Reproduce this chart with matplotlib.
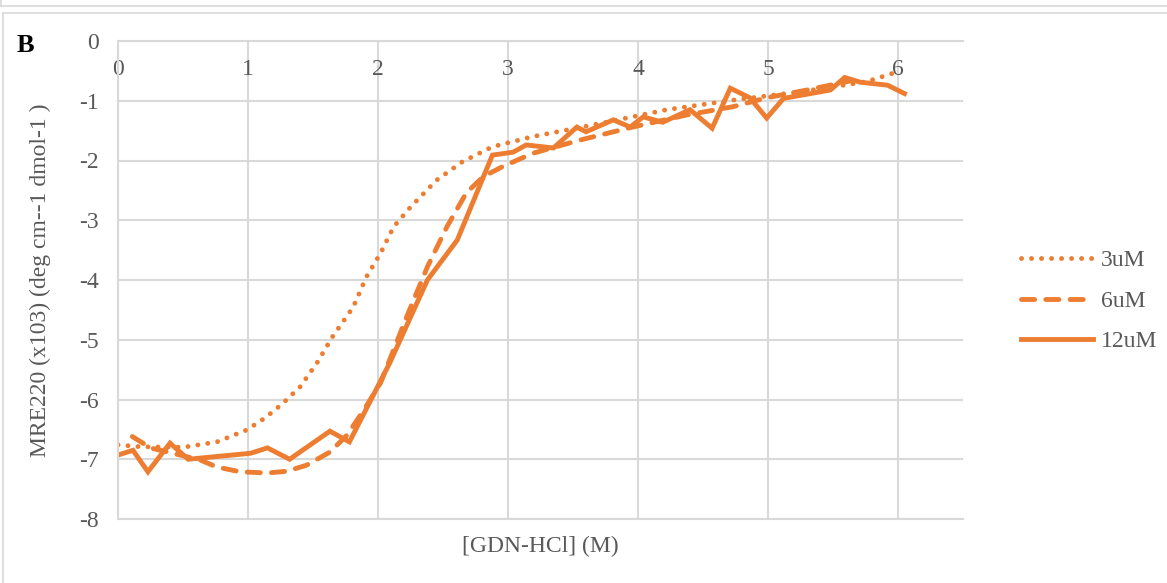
import matplotlib

matplotlib.use("Agg")
import matplotlib.pyplot as plt
from matplotlib.lines import Line2D

# values (x: GdnHCl in M, y: MRE220 x10^3)
x_3um = [0, 0.17, 0.5, 0.76, 0.99, 1.13, 1.26, 1.4, 1.53, 1.65, 1.81, 1.91, 2.02,
         2.12, 2.25, 2.45, 2.65, 2.88, 3.19, 3.71, 4.22, 4.73, 5.25, 5.76, 5.96]
y_3um = [-6.76, -6.79, -6.8, -6.71, -6.51, -6.31, -6.08, -5.79, -5.39, -4.95, -4.45, -3.95, -3.55,
         -3.11, -2.78, -2.33, -2.02, -1.77, -1.6, -1.38, -1.15, -0.99, -0.85, -0.68, -0.54]

x_6um = [0.11, 0.25, 0.63, 0.76, 0.94, 1.15, 1.3, 1.45, 1.63, 1.76, 1.89, 2.02, 2.22,
         2.38, 2.53, 2.68, 2.81, 2.96, 3.19, 3.55, 3.96, 4.37, 4.73, 4.99, 5.3, 5.63]
y_6um = [-6.62, -6.81, -7.01, -7.13, -7.21, -7.23, -7.2, -7.1, -6.88, -6.6, -6.18, -5.72, -4.62,
         -3.78, -3.11, -2.54, -2.27, -2.1, -1.88, -1.66, -1.44, -1.24, -1.1, -0.95, -0.82, -0.67]

x_12um = [0, 0.115, 0.23, 0.4, 0.54, 1.02, 1.15, 1.32, 1.63, 1.78, 2.09, 2.38, 2.61, 2.88,
          3.04, 3.14, 3.35, 3.53, 3.6, 3.81, 3.94, 4.04, 4.19, 4.4, 4.57, 4.71, 4.86, 4.99,
          5.12, 5.48, 5.59, 5.71, 5.92, 6.05]
y_12um = [-6.93, -6.85, -7.21, -6.73, -7.0, -6.9, -6.81, -7.0, -6.53, -6.71, -5.39, -4.0, -3.33, -1.91,
          -1.86, -1.74, -1.79, -1.44, -1.52, -1.32, -1.44, -1.27, -1.36, -1.15, -1.46, -0.79, -0.95, -1.29,
          -0.96, -0.82, -0.61, -0.69, -0.74, -0.88]

labels = ["3uM", "6uM", "12uM"]
x_ticks = [0, 1, 2, 3, 4, 5, 6]
y_ticks = [0, -1, -2, -3, -4, -5, -6, -7, -8]

plt.rcParams["font.family"] = ["Liberation Serif", "DejaVu Serif"]
plt.rcParams["axes.unicode_minus"] = False

ORANGE = "#ED7D31"
GRID = "#D9D9D9"
TXT = "#595959"
FS = 17

fig = plt.figure(figsize=(11.67, 5.83), dpi=100)
ax = fig.add_axes([118 / 1167, 1 - 519 / 583, (963 - 118) / 1167, (519 - 41) / 583])

ax.plot(x_3um, y_3um, color=ORANGE, lw=3.5, linestyle=(0, (0.01, 2.05)),
        dash_capstyle="round", label=labels[0])
ax.plot(x_6um, y_6um, color=ORANGE, lw=3.5, linestyle=(0, (2.7, 2.3)),
        dash_capstyle="round", label=labels[1])
ax.plot(x_12um, y_12um, color=ORANGE, lw=3.5, solid_joinstyle="miter", label=labels[2])

ax.set_xlim(0, 6.5)
ax.set_ylim(-8, 0)
ax.set_xticks(x_ticks)
ax.set_yticks(y_ticks)
ax.set_yticklabels([str(v) for v in y_ticks])
ax.grid(True, color=GRID, lw=1.5)
ax.set_axisbelow(True)
for side in ["top", "bottom", "left"]:
    ax.spines[side].set_color(GRID)
    ax.spines[side].set_linewidth(1.5)
ax.spines["right"].set_visible(False)

# x labels sit just under the zero line (Excel axis crossing at 0)
ax.tick_params(axis="x", length=0, labelbottom=False, labeltop=True, pad=-28,
               labelsize=FS, labelcolor=TXT)
ax.tick_params(axis="y", length=0, pad=14, labelsize=FS, labelcolor=TXT)

ax.set_xlabel("[GDN-HCl] (M)", fontsize=FS, color=TXT, labelpad=12)
ax.set_ylabel("MRE220 (x103) (deg cm--1 dmol-1 )", fontsize=FS, color=TXT, labelpad=20)

ax.legend(loc="center left", bbox_to_anchor=(1.043, 0.456), frameon=False, fontsize=FS,
          labelcolor=TXT, handlelength=3.05, handletextpad=0.34, labelspacing=0.8)

fig.text(17 / 1167, 1 - 52 / 583, "B", fontsize=19, fontweight="bold", color="black")

# panel frames
fig.add_artist(Line2D([1 / 1167, 1], [1 - 5.5 / 583] * 2, color=GRID, lw=1.2))
fig.add_artist(Line2D([1 / 1167] * 2, [1, 1 - 5.5 / 583], color=GRID, lw=1.2))
fig.add_artist(Line2D([3 / 1167, 1], [1 - 12.5 / 583] * 2, color=GRID, lw=1.2))
fig.add_artist(Line2D([3 / 1167] * 2, [0, 1 - 12.5 / 583], color=GRID, lw=1.2))

fig.savefig("out.png", dpi=100, facecolor="white")
